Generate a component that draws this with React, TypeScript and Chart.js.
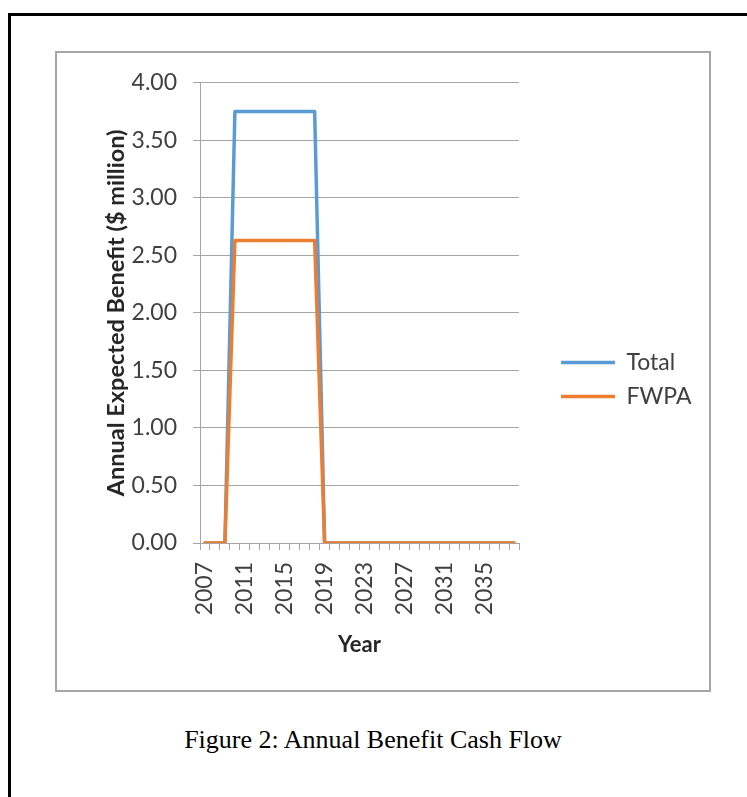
import { useEffect, useRef } from "react";
import { Chart, registerables } from "chart.js";

Chart.register(...registerables);

const years = [
  "2007", "2008", "2009", "2010", "2011", "2012", "2013", "2014",
  "2015", "2016", "2017", "2018", "2019", "2020", "2021", "2022",
  "2023", "2024", "2025", "2026", "2027", "2028", "2029", "2030",
  "2031", "2032", "2033", "2034", "2035", "2036", "2037", "2038",
];

const totalBenefit = [
  0, 0, 0, 3.75, 3.75, 3.75, 3.75, 3.75,
  3.75, 3.75, 3.75, 3.75, 0, 0, 0, 0,
  0, 0, 0, 0, 0, 0, 0, 0,
  0, 0, 0, 0, 0, 0, 0, 0,
];

const fwpaBenefit = [
  0, 0, 0, 2.63, 2.63, 2.63, 2.63, 2.63,
  2.63, 2.63, 2.63, 2.63, 0, 0, 0, 0,
  0, 0, 0, 0, 0, 0, 0, 0,
  0, 0, 0, 0, 0, 0, 0, 0,
];

const seriesNames = ["Total", "FWPA"];
const xTitle = "Year";
const yTitle = "Annual Expected Benefit ($ million)";
const caption = "Figure 2: Annual Benefit Cash Flow";

const gridColor = "#a6a6a6";
const tickColor = "#404040";
const titleColor = "#262626";

const legendGap = 31;

const legendShift = {
  id: "legendShift",
  afterLayout(chart: any) {
    const l = chart.legend;
    if (l) {
      l.left += legendGap;
      l.right = chart.width;
      l.width = l.right - l.left;
    }
  },
};

export default function App() {
  const ref = useRef<HTMLCanvasElement>(null);

  useEffect(() => {
    if (!ref.current) return;
    const chart = new Chart(ref.current, {
      type: "line",
      data: {
        labels: years,
        datasets: [
          {
            label: seriesNames[0],
            data: totalBenefit,
            borderColor: "#5B9BD5",
            backgroundColor: "#5B9BD5",
            borderWidth: 3.5,
            pointRadius: 0,
            tension: 0,
            borderJoinStyle: "round",
            borderCapStyle: "round",
            order: 2,
          },
          {
            label: seriesNames[1],
            data: fwpaBenefit,
            borderColor: "#ED7D31",
            backgroundColor: "#ED7D31",
            borderWidth: 3.5,
            pointRadius: 0,
            tension: 0,
            borderJoinStyle: "round",
            borderCapStyle: "round",
            order: 1,
          },
        ],
      },
      plugins: [legendShift],
      options: {
        responsive: false,
        animation: false,
        layout: { padding: { left: 45, top: 28, right: 90, bottom: 12 } },
        plugins: {
          legend: {
            position: "right",
            maxWidth: 100,
            labels: {
              usePointStyle: true,
              pointStyle: "line",
              pointStyleWidth: 54,
              padding: 11,
              color: tickColor,
              font: { family: "Lato", size: 23 },
              sort: (a: any, b: any) => a.datasetIndex - b.datasetIndex,
            },
          },
          tooltip: { enabled: false },
        },
        scales: {
          x: {
            type: "category",
            offset: true,
            grid: {
              offset: true,
              drawOnChartArea: false,
              drawTicks: true,
              tickLength: 7,
              color: gridColor,
              lineWidth: 1,
            },
            border: { display: true, color: gridColor, width: 1 },
            ticks: {
              autoSkip: false,
              minRotation: 90,
              maxRotation: 90,
              padding: 12,
              color: tickColor,
              font: { family: "Lato", size: 23 },
              callback: (_v: any, i: number) => (i % 4 === 0 ? years[i] : ""),
            },
            title: {
              display: true,
              text: xTitle,
              color: titleColor,
              font: { family: "Lato", size: 22, weight: "bold" },
              padding: { top: 0, bottom: 20 },
            },
            afterFit: (s: any) => {
              s.height = 135;
            },
          },
          y: {
            min: 0,
            max: 4,
            ticks: {
              stepSize: 0.5,
              padding: 16,
              color: tickColor,
              font: { family: "Lato", size: 23 },
              callback: (v: any) => Number(v).toFixed(2),
            },
            grid: { color: gridColor, tickLength: 7, lineWidth: 1 },
            border: { display: true, color: gridColor, width: 1 },
            title: {
              display: true,
              text: yTitle,
              color: titleColor,
              font: { family: "Lato", size: 23.5, weight: "bold" },
              padding: { top: 0, bottom: 0 },
            },
            afterFit: (s: any) => {
              s.width = 98;
            },
          },
        },
      },
    } as any);
    return () => chart.destroy();
  }, []);

  return (
    <div
      style={{
        position: "fixed",
        left: 0,
        top: 0,
        width: 747,
        height: 797,
        overflow: "hidden",
        background: "#ffffff",
      }}
    >
      <div
        style={{
          position: "absolute",
          left: 8,
          top: 13,
          width: 900,
          height: 900,
          borderLeft: "3px solid #000",
          borderTop: "3px solid #000",
        }}
      />
      <div
        style={{
          position: "absolute",
          left: 55,
          top: 51,
          width: 652,
          height: 637,
          border: "2px solid #a6a6a6",
        }}
      >
        <canvas
          ref={ref}
          width={652}
          height={637}
          style={{ display: "block", width: 652, height: 637 }}
        />
      </div>
      <div
        style={{
          position: "absolute",
          left: 173,
          top: 725,
          width: 400,
          textAlign: "center",
          fontFamily: "'Liberation Serif', 'Times New Roman', serif",
          fontSize: 26,
          lineHeight: "30px",
          color: "#000",
          whiteSpace: "nowrap",
        }}
      >
        {caption}
      </div>
    </div>
  );
}
